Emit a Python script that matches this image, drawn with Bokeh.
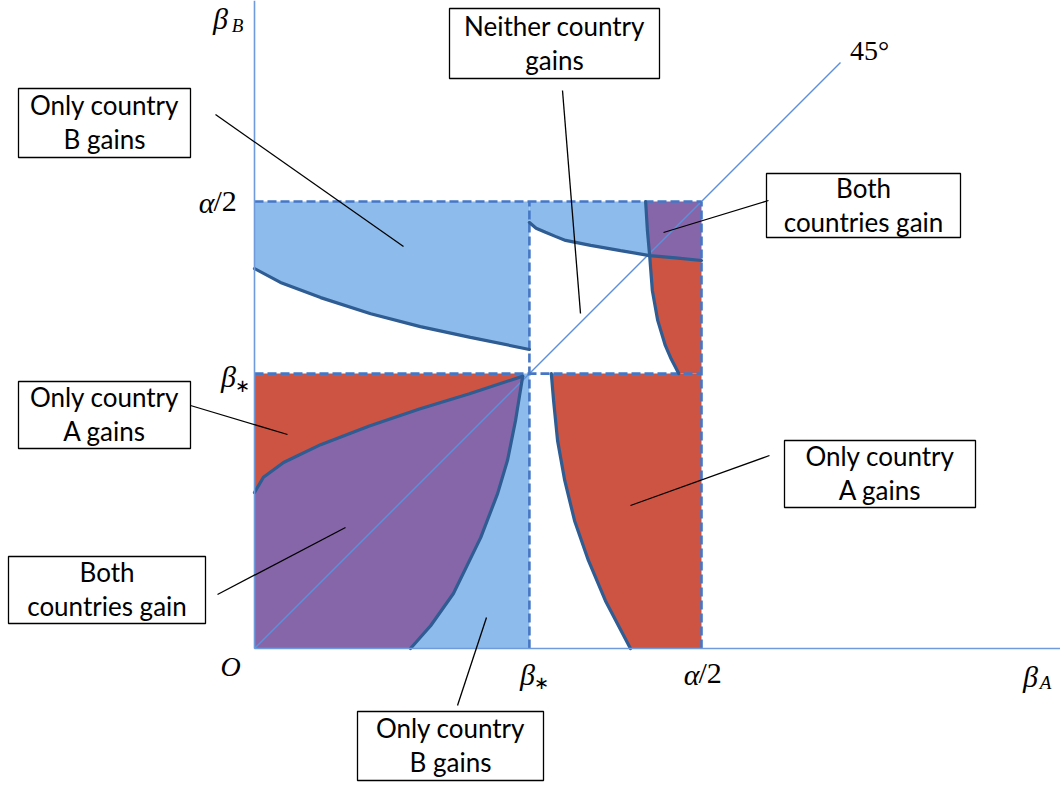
from bokeh.plotting import figure
from bokeh.models import Range1d
from bokeh.core.properties import value
from bokeh.embed import file_html
from bokeh.resources import INLINE

# ---------------- data (units: alpha/2 = 100) ----------------
ALPHA_HALF = 100.0
BETA_STAR = 61.5

# upper-left region: lower boundary of "Only country B gains"
tl_x = [0, 5.8, 14.8, 26.0, 37.1, 48.3, 61.5]
tl_y = [85.0, 81.9, 78.5, 74.9, 72.0, 69.6, 66.9]

# upper-middle curve (left part up to the crossing, right part after)
um_x = [61.5, 63.0, 65.1, 67.3, 69.6, 75.2, 81.9, 88.4]
um_y = [95.3, 94.0, 93.1, 92.2, 91.3, 90.2, 89.0, 87.9]
um2_x = [88.4, 94.2, 100.0]
um2_y = [87.9, 87.4, 86.8]

# near-vertical curve on the right (top part, bottom part)
vt_x = [87.5, 87.9, 88.4]
vt_y = [100.0, 93.5, 87.9]
vb_x = [88.4, 89.0, 90.2, 91.9, 93.2, 94.9]
vb_y = [87.9, 80.1, 73.4, 67.8, 64.8, 61.5]

# lower-left: red/purple boundary
rbl_x = [0, 2.0, 6.5, 14.8, 25.7, 36.9, 48.1, 60.0]
rbl_y = [34.9, 38.3, 41.6, 45.6, 49.8, 53.6, 57.0, 60.9]

# lower-left: purple/blue boundary
bbl_x = [34.9, 39.4, 44.5, 50.6, 54.4, 56.6, 58.4, 59.3, 60.0]
bbl_y = [0, 5.1, 12.3, 24.8, 34.7, 42.1, 51.0, 56.6, 60.9]

# lower-right: red region left boundary
rbr_x = [66.4, 66.9, 67.8, 69.4, 71.6, 74.7, 78.5, 84.1]
rbr_y = [61.5, 55.5, 46.5, 37.6, 28.6, 19.7, 10.7, 0]

box_texts = [
    ["Only country", "B gains"],
    ["Neither country", "gains"],
    ["Both", "countries gain"],
    ["Only country", "A gains"],
    ["Only country", "A gains"],
    ["Both", "countries gain"],
    ["Only country", "B gains"],
]

# ---------------- layout helpers ----------------
S = 4.47           # px per unit
X0, Y0 = 254, 648  # pixel of origin
W, H = 1060, 785


def ux(px):
    return (px - X0) / S


def uy(py):
    return (Y0 - py) / S


BLUE = "#8DBBEC"
RED = "#CD5342"
PURPLE = "#8666A9"
CURVE = "#2E5C93"
DASH = "#4677C6"
AXIS = "#6F9BDD"

p = figure(width=W, height=H, x_range=Range1d(ux(0), ux(W)),
           y_range=Range1d(uy(H), uy(0)), output_backend="svg",
           toolbar_location=None, x_axis_location=None, y_axis_location=None,
           min_border=0, outline_line_color=None)
p.xgrid.visible = False
p.ygrid.visible = False

A, B = ALPHA_HALF, BETA_STAR
rev = lambda a: list(reversed(a))

# fills
patches_x = [
    [0, B] + rev(tl_x) + [0],
    [B, vt_x[0]] + vt_x[1:] + rev(um_x),
    [vt_x[0], A] + rev(um2_x) + rev(vt_x),
    um2_x + [A, vb_x[-1]] + rev(vb_x),
    [0, bbl_x[-1]] + rev(rbl_x),
    [0, bbl_x[0]] + bbl_x + rev(rbl_x),
    [bbl_x[0], B, B, bbl_x[-1]] + rev(bbl_x),
    [rbr_x[0], A, A] + rev(rbr_x),
]
patches_y = [
    [A, A] + rev(tl_y) + [A],
    [A, vt_y[0]] + vt_y[1:] + rev(um_y),
    [vt_y[0], A] + rev(um2_y) + rev(vt_y),
    um2_y + [B, B] + rev(vb_y),
    [B, B] + rev(rbl_y),
    [0, 0] + bbl_y + rev(rbl_y),
    [0, 0, B, B] + rev(bbl_y),
    [B, B, 0] + rev(rbr_y),
]
colors = [BLUE, BLUE, PURPLE, RED, RED, PURPLE, BLUE, RED]
p.patches(patches_x, patches_y, fill_color=colors, line_color=None)

# 45 degree line
p.line([0, ux(840)], [0, ux(840)], line_color="#5E90D9", line_width=1.4)

# dashed guides
p.multi_line([[0, A], [0, A], [B, B], [A, A]], [[A, A], [B, B], [0, A], [0, A]],
             line_color=DASH, line_width=2.6, line_dash="9 4")

# curves
for cx, cy in [(tl_x, tl_y), (um_x + um2_x[1:], um_y + um2_y[1:]),
               (vt_x + vb_x[1:], vt_y + vb_y[1:]), (rbl_x, rbl_y),
               (bbl_x, bbl_y), (rbr_x, rbr_y)]:
    p.line(cx, cy, line_color=CURVE, line_width=3.2, line_cap="round")

# axes
p.line([0, 0], [0, uy(0)], line_color=AXIS, line_width=1.6)
p.line([0, ux(W)], [0, 0], line_color=AXIS, line_width=1.6)

# axis labels (serif)
SERIF = value("Liberation Serif")


def lab(px, py, txt, size, align="center", style="italic"):
    p.text(x=[ux(px)], y=[uy(py)], text=[txt], text_font=SERIF,
           text_font_size=size, text_font_style=style, text_align=align,
           text_baseline="middle", text_color="black")


lab(214, 202, "α", "30px", align="right")
lab(213, 200, "/2", "30px", align="left", style="normal")
lab(228, 376, "β", "30px")
lab(242, 385, "∗", "18px", style="normal")
lab(230, 666, "O", "28px")
lab(527, 674, "β", "30px")
lab(541, 682, "∗", "18px", style="normal")
lab(699, 674, "α", "30px", align="right")
lab(698, 672, "/2", "30px", align="left", style="normal")
lab(1030, 676, "β", "30px")
lab(1045, 682, "A", "19px")
lab(220, 18, "β", "30px")
lab(237, 25, "B", "19px")
lab(869, 50, "45°", "28px", style="normal")

# callout boxes
boxes = [(18, 190, 88, 157), (449, 659, 8, 78), (766, 960, 173, 237),
         (18, 190, 381, 448), (784, 975, 440, 507), (8, 205, 556, 623),
         (357, 543, 711, 780)]
p.quad(left=[ux(b[0]) for b in boxes], right=[ux(b[1]) for b in boxes],
       top=[uy(b[2]) for b in boxes], bottom=[uy(b[3]) for b in boxes],
       fill_color="white", line_color="black", line_width=1.3)
tx, ty, tt = [], [], []
for b, lines in zip(boxes, box_texts):
    cx = (b[0] + b[1]) / 2
    cy = (b[2] + b[3]) / 2
    tx += [ux(cx), ux(cx)]
    ty += [uy(cy - 18), uy(cy + 16)]
    tt += lines
p.text(x=tx, y=ty, text=tt, text_font=value("Lato"), text_font_size="26px",
       text_align="center", text_baseline="middle", text_color="black")

# leader lines
leaders = [((215, 114), (403, 246)), ((562, 90), (580, 313)),
           ((768, 200), (663, 232)), ((190, 405), (287, 434)),
           ((769, 455), (630, 505)), ((217, 594), (345, 527)),
           ((457, 705), (486, 617))]
p.segment(x0=[ux(a[0]) for a, _ in leaders], y0=[uy(a[1]) for a, _ in leaders],
          x1=[ux(b[0]) for _, b in leaders], y1=[uy(b[1]) for _, b in leaders],
          line_color="black", line_width=1.3)

open("out.html", "w").write(file_html(p, INLINE))
